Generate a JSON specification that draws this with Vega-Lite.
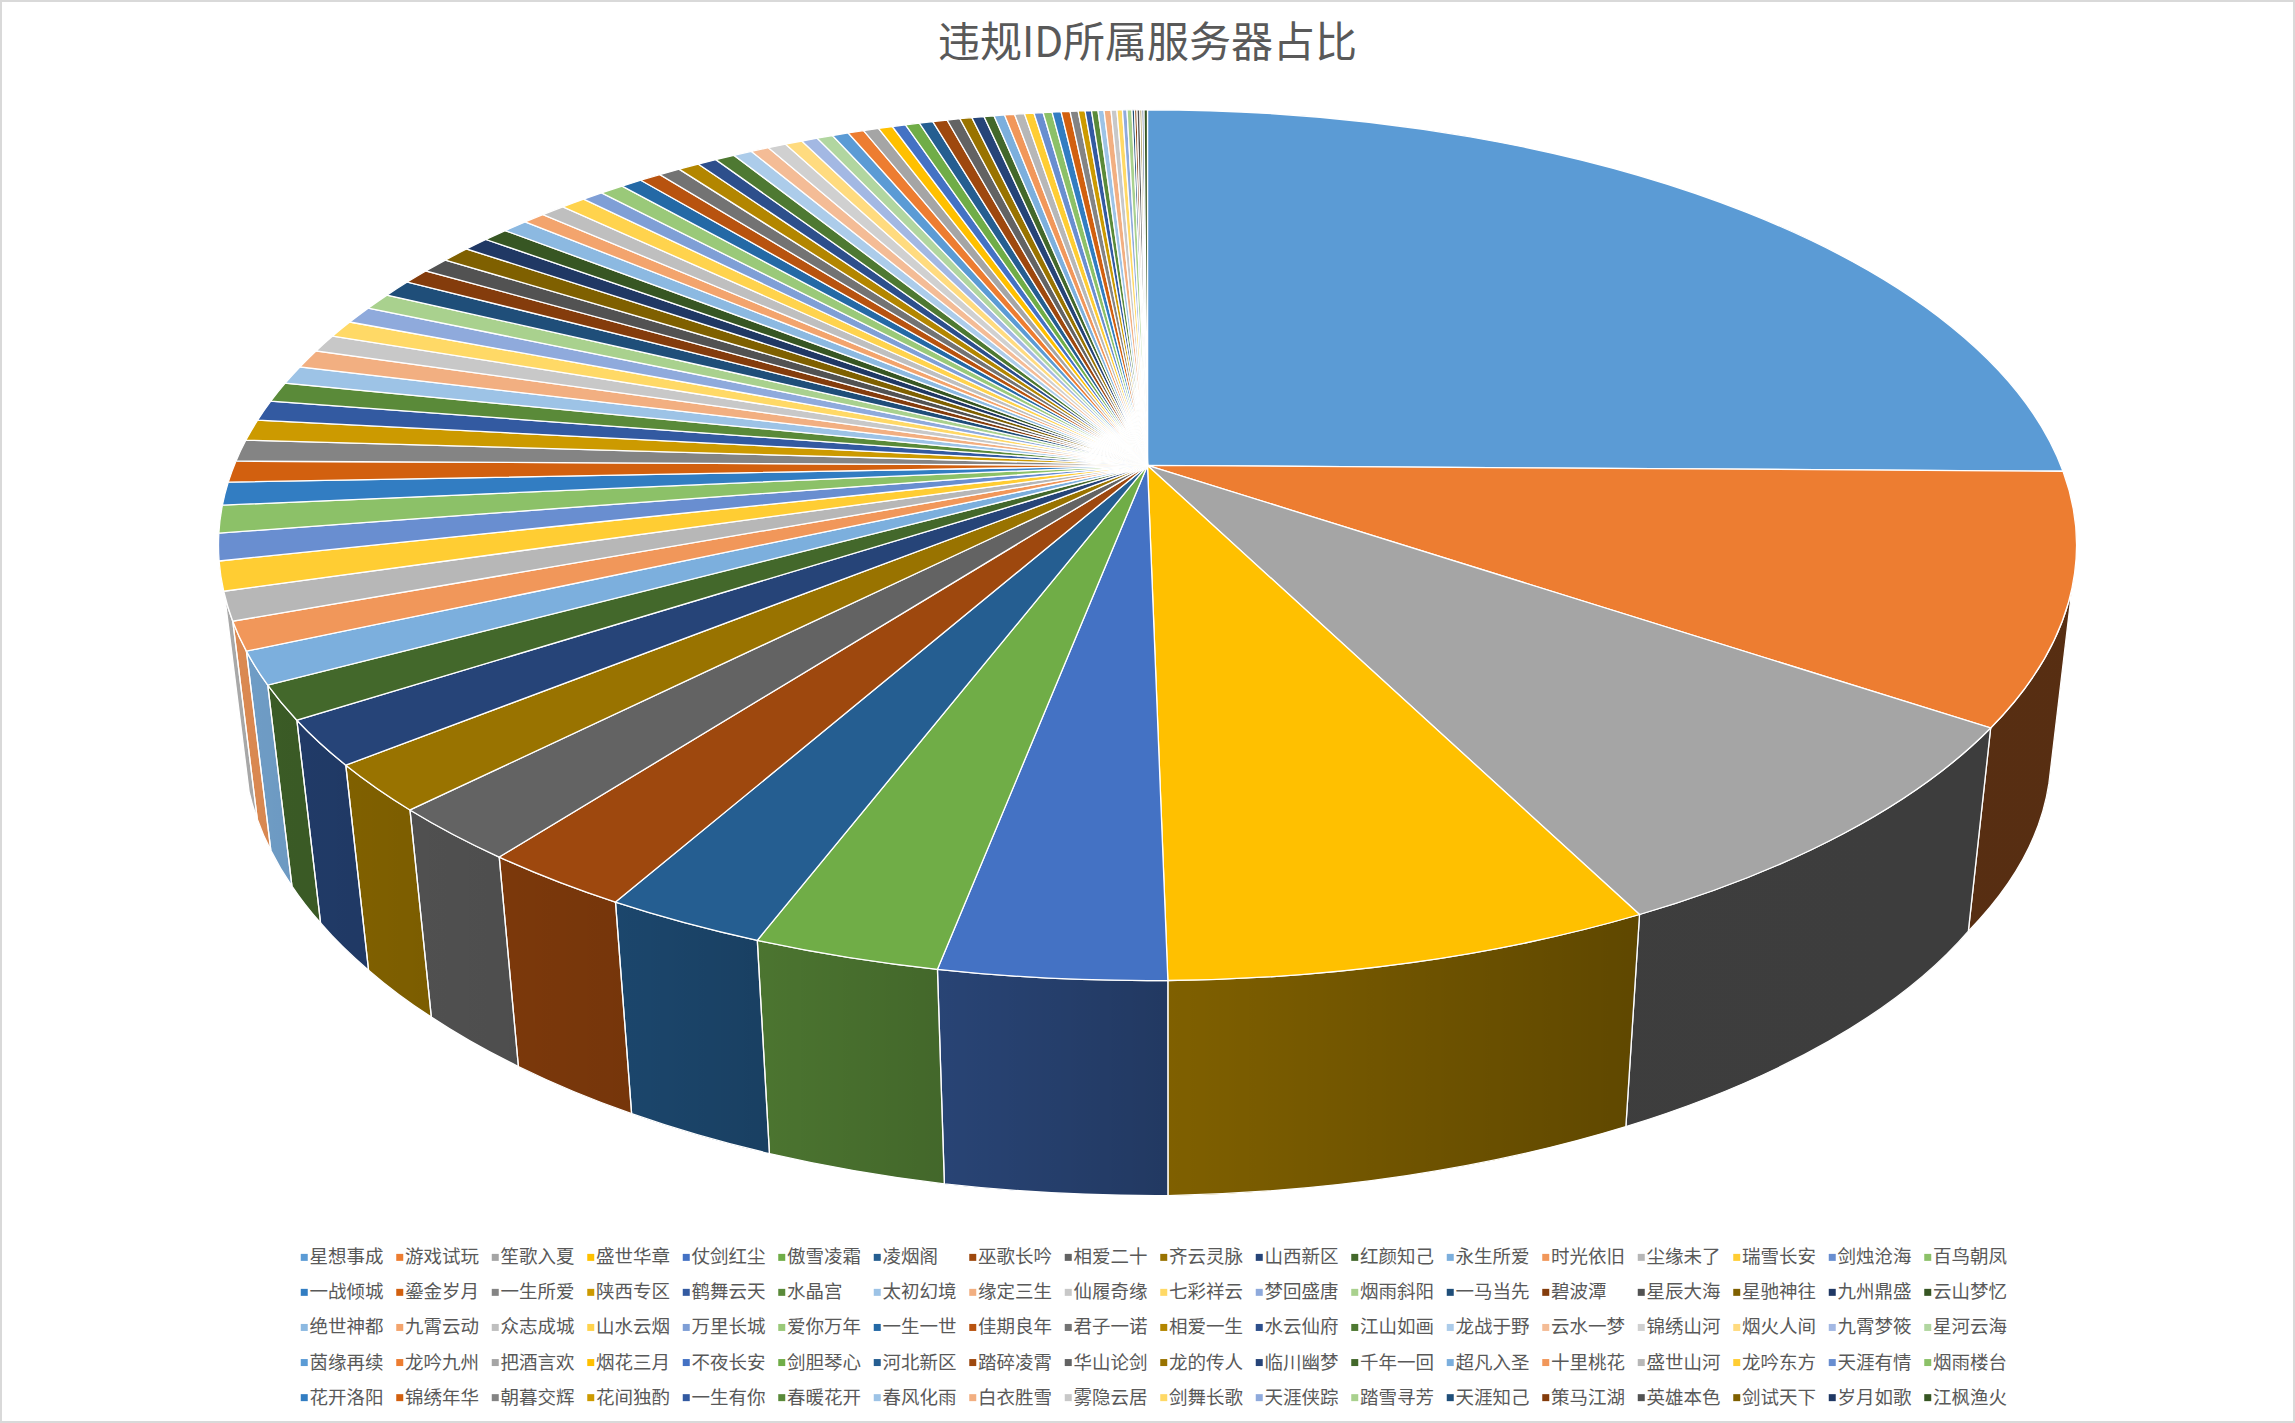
{"$schema":"https://vega.github.io/schema/vega-lite/v6.json","width":2295,"height":1423,"padding":0,"autosize":{"type":"none"},"background":"white","config":{"view":{"stroke":"#D9D9D9","strokeWidth":4},"font":"Noto Sans CJK SC"},"title":{"text":"违规ID所属服务器占比","font":"Noto Sans CJK SC","fontSize":42,"fontWeight":"normal","color":"#595959","anchor":"middle","dy":70},"data":{"values":[{"name":"星想事成","value":25.22},{"name":"游戏试玩","value":9.24},{"name":"笙歌入夏","value":8.1},{"name":"盛世华章","value":7.15},{"name":"仗剑红尘","value":3.31},{"name":"傲雪凌霜","value":2.74},{"name":"凌烟阁","value":2.38},{"name":"巫歌长吟","value":2.23},{"name":"相爱二十","value":2.02},{"name":"齐云灵脉","value":1.76},{"name":"山西新区","value":1.675},{"name":"红颜知己","value":1.27},{"name":"永生所爱","value":1.21},{"name":"时光依旧","value":1.06},{"name":"尘缘未了","value":1.06},{"name":"瑞雪长安","value":1.075},{"name":"剑烛沧海","value":1.0},{"name":"百鸟朝凤","value":1.02},{"name":"一战倾城","value":0.85},{"name":"鎏金岁月","value":0.79},{"name":"一生所爱","value":0.81},{"name":"陕西专区","value":0.78},{"name":"鹤舞云天","value":0.76},{"name":"水晶宫","value":0.74},{"name":"太初幻境","value":0.68},{"name":"缘定三生","value":0.69},{"name":"仙履奇缘","value":0.66},{"name":"七彩祥云","value":0.64},{"name":"梦回盛唐","value":0.65},{"name":"烟雨斜阳","value":0.63},{"name":"一马当先","value":0.65},{"name":"碧波潭","value":0.57},{"name":"星辰大海","value":0.58},{"name":"星驰神往","value":0.61},{"name":"九州鼎盛","value":0.54},{"name":"云山梦忆","value":0.525},{"name":"绝世神都","value":0.53},{"name":"九霄云动","value":0.46},{"name":"众志成城","value":0.51},{"name":"山水云烟","value":0.52},{"name":"万里长城","value":0.44},{"name":"爱你万年","value":0.5},{"name":"一生一世","value":0.447},{"name":"佳期良年","value":0.447},{"name":"君子一诺","value":0.45},{"name":"相爱一生","value":0.44},{"name":"水云仙府","value":0.4},{"name":"江山如画","value":0.41},{"name":"龙战于野","value":0.39},{"name":"云水一梦","value":0.38},{"name":"锦绣山河","value":0.38},{"name":"烟火人间","value":0.356},{"name":"九霄梦筱","value":0.336},{"name":"星河云海","value":0.33},{"name":"茵缘再续","value":0.34},{"name":"龙吟九州","value":0.33},{"name":"把酒言欢","value":0.32},{"name":"烟花三月","value":0.294},{"name":"不夜长安","value":0.28},{"name":"剑胆琴心","value":0.294},{"name":"河北新区","value":0.283},{"name":"踏碎凌霄","value":0.3},{"name":"华山论剑","value":0.27},{"name":"龙的传人","value":0.25},{"name":"临川幽梦","value":0.253},{"name":"千年一回","value":0.208},{"name":"超凡入圣","value":0.22},{"name":"十里桃花","value":0.208},{"name":"盛世山河","value":0.206},{"name":"龙吟东方","value":0.197},{"name":"天涯有情","value":0.189},{"name":"烟雨楼台","value":0.186},{"name":"花开洛阳","value":0.186},{"name":"锦绣年华","value":0.186},{"name":"朝暮交辉","value":0.167},{"name":"花间独酌","value":0.144},{"name":"一生有你","value":0.133},{"name":"春暖花开","value":0.133},{"name":"春风化雨","value":0.125},{"name":"白衣胜雪","value":0.144},{"name":"雾隐云居","value":0.122},{"name":"剑舞长歌","value":0.114},{"name":"天涯侠踪","value":0.094},{"name":"踏雪寻芳","value":0.103},{"name":"天涯知己","value":0.053},{"name":"策马江湖","value":0.05},{"name":"英雄本色","value":0.061},{"name":"剑试天下","value":0.042},{"name":"岁月如歌","value":0.042},{"name":"江枫渔火","value":0.072}]},"transform":[{"window":[{"op":"sum","field":"value","as":"cum"}],"ignorePeers":true,"frame":[null,0]},{"joinaggregate":[{"op":"sum","field":"value","as":"total"}]},{"calculate":"2*PI*(datum.cum-datum.value)/datum.total","as":"t1"},{"calculate":"2*PI*datum.cum/datum.total","as":"t2"},{"calculate":"1+0.1832*cos(datum.t1)","as":"w1"},{"calculate":"1+0.1832*cos(datum.t2)","as":"w2"},{"calculate":"round(100*913.3*sin(datum.t1)/datum.w1)/100","as":"x1"},{"calculate":"round(-100*420.8*cos(datum.t1)/datum.w1)/100","as":"y1"},{"calculate":"round(100*913.3*sin(datum.t2)/datum.w2)/100","as":"x2"},{"calculate":"round(-100*420.8*cos(datum.t2)/datum.w2)/100","as":"y2"},{"calculate":"'M0,0L'+datum.x1+','+datum.y1+'A929,435.4 0 0 1 '+datum.x2+','+datum.y2+'Z'","as":"topPath"},{"calculate":"max(datum.t1,1.85)","as":"ta"},{"calculate":"min(datum.t2,4.416)","as":"tb"},{"calculate":"1+0.1832*cos(datum.ta)","as":"wa"},{"calculate":"1+0.1832*cos(datum.tb)","as":"wb"},{"calculate":"round(100*913.3*sin(datum.ta)/datum.wa)/100","as":"xa"},{"calculate":"round(-100*420.8*cos(datum.ta)/datum.wa)/100","as":"ya"},{"calculate":"round(100*913.3*sin(datum.tb)/datum.wb)/100","as":"xb"},{"calculate":"round(-100*420.8*cos(datum.tb)/datum.wb)/100","as":"yb"},{"calculate":"round(100*(913.3*sin(datum.ta)+0.59)/(datum.wa+0.0251))/100","as":"bxa"},{"calculate":"round(100*(-420.8*cos(datum.ta)+194)/(datum.wa+0.0251))/100","as":"bya"},{"calculate":"round(100*(913.3*sin(datum.tb)+0.59)/(datum.wb+0.0251))/100","as":"bxb"},{"calculate":"round(100*(-420.8*cos(datum.tb)+194)/(datum.wb+0.0251))/100","as":"byb"},{"calculate":"datum.tb>datum.ta?'M'+datum.xa+','+datum.ya+'A929,435.4 0 0 1 '+datum.xb+','+datum.yb+'L'+datum.bxb+','+datum.byb+'A905.5,424 0 0 0 '+datum.bxa+','+datum.bya+'Z':'M0,0Z'","as":"wallPath"},{"calculate":"datum.t1*180/PI","as":"d1"},{"calculate":"datum.t2*180/PI","as":"d2"},{"calculate":"datum.d1<153?0.37:datum.d1<180?0.37+(datum.d1-153)*0.005:datum.d1<210?0.505+(datum.d1-180)*0.0082:min(0.92,0.75+(datum.d1-210)*0.004)","as":"f1"},{"calculate":"datum.d2<153?0.37:datum.d2<180?0.37+(datum.d2-153)*0.005:datum.d2<210?0.505+(datum.d2-180)*0.0082:min(0.92,0.75+(datum.d2-210)*0.004)","as":"f2"},{"calculate":"{gradient:'linear',x1:0,y1:0,x2:1,y2:0,stops:[{offset:0,color:'rgba(0,0,0,'+(1-datum.f2)+')'},{offset:1,color:'rgba(0,0,0,'+(1-datum.f1)+')'}]}","as":"shade"}],"encoding":{"x":{"datum":0,"type":"quantitative","scale":{"domain":[-1147.5,1147.5],"nice":false,"zero":false},"axis":null},"y":{"datum":0,"type":"quantitative","scale":{"domain":[957.6,-465.4],"nice":false,"zero":false},"axis":null}},"layer":[{"mark":{"type":"point","filled":true,"size":4,"opacity":1,"strokeWidth":0},"encoding":{"shape":{"field":"wallPath","type":"nominal","scale":null},"color":{"field":"name","type":"nominal","sort":null,"scale":{"range":["#5B9BD5","#ED7D31","#A5A5A5","#FFC000","#4472C4","#70AD47","#255E91","#9E480E","#636363","#997300","#264478","#43682B","#7CAFDD","#F1975A","#B7B7B7","#FFCD33","#698ED0","#8CC168","#327DC2","#D2600F","#848484","#CC9A00","#335AA1","#5A8A39","#9DC3E6","#F2AF81","#C8C8C8","#FFD966","#8FAADC","#A9D18E","#1F4E79","#843C0C","#525252","#7F6000","#203864","#375623","#8CB9E1","#F3A46D","#BFBFBF","#FFD34D","#7F9FD6","#9AC979","#2469A6","#B8530F","#737373","#B38600","#2D4F8C","#4E7932","#ACCCEA","#F4BC96","#D0D0D0","#FFDB7F","#A3B8E3","#B1D6A0"]},"legend":{"title":null,"orient":"none","legendX":295,"legendY":1248,"direction":"horizontal","columns":18,"symbolLimit":100,"symbolType":"square","symbolSize":49,"symbolStrokeWidth":0,"labelFont":"Noto Sans CJK SC","labelFontSize":18.5,"labelColor":"#595959","labelLimit":120,"labelOffset":-4,"columnPadding":6.5,"rowPadding":16.1,"padding":0}}}},{"mark":{"type":"point","filled":true,"size":4,"opacity":1,"stroke":"white","strokeWidth":1.3},"encoding":{"shape":{"field":"wallPath","type":"nominal","scale":null},"fill":{"field":"shade","type":"nominal","scale":null}}},{"mark":{"type":"point","filled":true,"size":4,"opacity":1,"stroke":"white","strokeWidth":1.3},"encoding":{"shape":{"field":"topPath","type":"nominal","scale":null},"color":{"field":"name","type":"nominal","sort":null}}}]}
